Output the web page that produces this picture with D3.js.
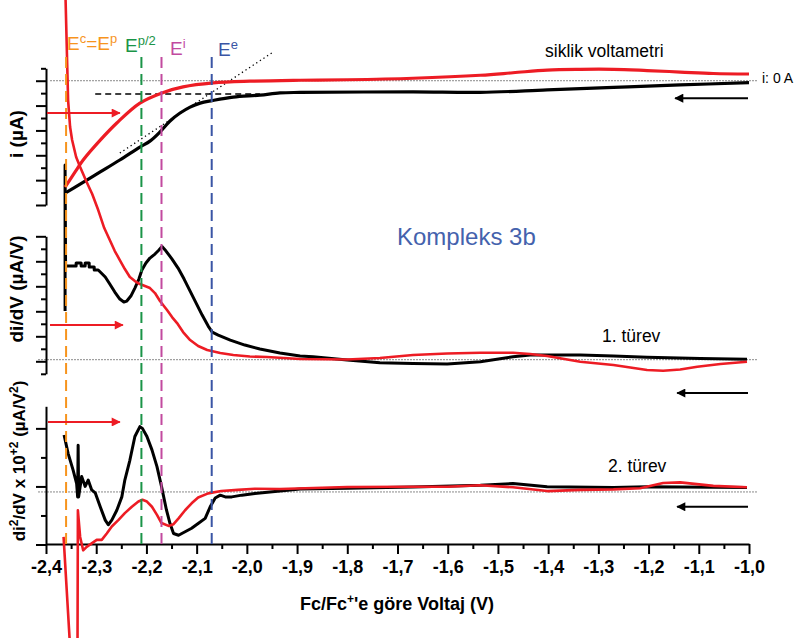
<!DOCTYPE html>
<html><head><meta charset="utf-8">
<script src="https://cdn.jsdelivr.net/npm/d3@7"></script>
<style>body{margin:0;background:#fff}svg{display:block;font-family:"Liberation Sans",Arial,sans-serif}</style>
</head><body><svg id="c" width="801" height="638"></svg>
<script>
// ---------- data ----------
const xTickValues = [-2.4,-2.3,-2.2,-2.1,-2.0,-1.9,-1.8,-1.7,-1.6,-1.5,-1.4,-1.3,-1.2,-1.1,-1.0];
const xTickLabels = ["-2,4","-2,3","-2,2","-2,1","-2,0","-1,9","-1,8","-1,7","-1,6","-1,5","-1,4","-1,3","-1,2","-1,1","-1,0"];
const xMinorTicks = [-2.35,-2.25,-2.15,-2.05,-1.95,-1.85,-1.75,-1.65,-1.55,-1.45,-1.35,-1.25,-1.15,-1.05];

// cyclic voltammetry (top panel), [V, i]
const cvBlack = [[-2.362,-4.52],[-2.332,-4.16],[-2.292,-3.67],[-2.253,-3.19],[-2.213,-2.67],[-2.193,-2.43],[-2.173,-2.06],[-2.153,-1.62],[-2.133,-1.30],[-2.113,-1.06],[-2.093,-0.90],[-2.069,-0.80],[-2.027,-0.66],[-1.974,-0.58],[-1.934,-0.49],[-1.894,-0.47],[-1.669,-0.45],[-1.535,-0.47],[-1.402,-0.37],[-1.270,-0.27],[-1.137,-0.17],[-1.0,-0.08]];
const cvRed = [[-2.362,-4.28],[-2.342,-3.67],[-2.326,-3.19],[-2.292,-2.39],[-2.259,-1.70],[-2.213,-0.90],[-2.169,-0.49],[-2.127,-0.25],[-2.067,-0.09],[-1.994,-0.02],[-1.894,0.02],[-1.800,0.04],[-1.669,0.10],[-1.535,0.22],[-1.470,0.32],[-1.402,0.43],[-1.336,0.46],[-1.270,0.46],[-1.203,0.41],[-1.137,0.35],[-1.071,0.29],[-1.0,0.27]];

// first derivative (middle panel), [V, di/dV]
const d1Black = [[-2.362,2.01],[-2.362,7.85],[-2.361,3.81],[-2.340,3.81],[-2.340,3.93],[-2.330,3.93],[-2.330,3.81],[-2.322,3.81],[-2.322,3.93],[-2.314,3.93],[-2.314,3.77],[-2.304,3.77],[-2.304,3.65],[-2.296,3.65],[-2.292,3.57],[-2.282,3.37],[-2.273,3.09],[-2.263,2.77],[-2.253,2.49],[-2.245,2.37],[-2.239,2.41],[-2.231,2.61],[-2.223,2.93],[-2.215,3.29],[-2.209,3.65],[-2.201,3.93],[-2.193,4.13],[-2.183,4.29],[-2.175,4.45],[-2.169,4.59],[-2.161,4.41],[-2.149,4.09],[-2.137,3.73],[-2.125,3.29],[-2.113,2.81],[-2.101,2.33],[-2.089,1.85],[-2.077,1.41],[-2.069,1.17],[-2.057,1.05],[-2.033,0.85],[-2.004,0.65],[-1.974,0.49],[-1.934,0.33],[-1.894,0.21],[-1.868,0.18],[-1.800,0.05],[-1.735,-0.06],[-1.669,-0.09],[-1.601,-0.11],[-1.535,-0.02],[-1.470,0.18],[-1.436,0.25],[-1.336,0.25],[-1.270,0.21],[-1.203,0.16],[-1.097,0.11],[-1.004,0.08]];
const d1Red = [[-2.363,15.25],[-2.361,14.45],[-2.358,12.05],[-2.356,10.45],[-2.352,9.37],[-2.348,8.85],[-2.340,8.17],[-2.332,7.77],[-2.320,7.21],[-2.308,6.69],[-2.296,6.05],[-2.284,5.33],[-2.273,4.85],[-2.263,4.41],[-2.253,4.05],[-2.243,3.69],[-2.233,3.37],[-2.223,3.21],[-2.213,3.09],[-2.203,3.01],[-2.193,2.93],[-2.183,2.73],[-2.173,2.41],[-2.159,2.05],[-2.149,1.77],[-2.139,1.53],[-2.127,1.17],[-2.113,0.85],[-2.097,0.61],[-2.079,0.45],[-2.053,0.33],[-2.027,0.25],[-1.994,0.19],[-1.960,0.17],[-1.894,0.09],[-1.800,0.07],[-1.735,0.13],[-1.669,0.25],[-1.601,0.31],[-1.535,0.34],[-1.470,0.34],[-1.436,0.29],[-1.402,0.21],[-1.336,-0.02],[-1.270,-0.15],[-1.203,-0.35],[-1.171,-0.38],[-1.137,-0.33],[-1.103,-0.22],[-1.057,-0.11],[-1.004,-0.02]];

// second derivative (bottom panel), [V, di2/dV2]
const d2Black = [[-2.364,0.885],[-2.356,0.57],[-2.346,0.28],[-2.339,0.05],[-2.337,-0.18],[-2.336,0.71],[-2.335,-0.18],[-2.329,0.17],[-2.322,0.0],[-2.316,0.11],[-2.309,-0.06],[-2.302,-0.11],[-2.292,-0.35],[-2.282,-0.58],[-2.276,-0.66],[-2.269,-0.58],[-2.259,-0.41],[-2.249,-0.18],[-2.243,0.11],[-2.233,0.45],[-2.223,0.86],[-2.213,1.03],[-2.208,1.00],[-2.199,0.86],[-2.189,0.63],[-2.179,0.34],[-2.170,0.0],[-2.160,-0.41],[-2.153,-0.64],[-2.146,-0.81],[-2.136,-0.84],[-2.123,-0.78],[-2.110,-0.72],[-2.097,-0.64],[-2.083,-0.55],[-2.073,-0.35],[-2.063,-0.20],[-2.053,-0.15],[-2.043,-0.18],[-2.030,-0.18],[-2.010,-0.15],[-1.984,-0.12],[-1.894,-0.045],[-1.800,-0.03],[-1.669,-0.01],[-1.535,0.02],[-1.470,0.05],[-1.402,-0.005],[-1.270,-0.02],[-1.203,-0.005],[-1.004,-0.02]];
const d2Red = [[-2.365,-0.87],[-2.347,-3.5],[-2.3375,-3.5],[-2.3365,-0.41],[-2.332,-0.87],[-2.326,-1.10],[-2.319,-1.04],[-2.309,-0.98],[-2.299,-0.92],[-2.289,-0.92],[-2.279,-0.81],[-2.269,-0.69],[-2.256,-0.58],[-2.243,-0.46],[-2.229,-0.35],[-2.216,-0.26],[-2.208,-0.23],[-2.199,-0.26],[-2.189,-0.35],[-2.179,-0.49],[-2.170,-0.63],[-2.156,-0.68],[-2.146,-0.65],[-2.136,-0.55],[-2.123,-0.41],[-2.110,-0.29],[-2.097,-0.19],[-2.077,-0.12],[-2.051,-0.08],[-2.018,-0.06],[-1.984,-0.04],[-1.934,-0.045],[-1.800,-0.01],[-1.669,-0.005],[-1.601,-0.005],[-1.535,0.02],[-1.470,-0.015],[-1.402,-0.08],[-1.336,-0.06],[-1.270,-0.05],[-1.217,-0.03],[-1.171,0.06],[-1.137,0.07],[-1.071,0.01],[-1.004,-0.015]];

// characteristic potentials
const markerV = [-2.36,-2.21,-2.17,-2.07];
const markerLabels = [[["E",0],["c",1],["=E",0],["p",1]],[["E",0],["p/2",1]],[["E",0],["i",1]],[["E",0],["e",1]]];
const markerColors = ["#f7941d","#1a9447","#c24a9f","#3a55a5"];
// tangent lines on CV
const tangentDashed = [[-2.302,-0.535],[-1.974,-0.535]];
const tangentDotted = [[-2.253,-2.91],[-1.948,1.15]];

// ---------- drawing ----------
const svg = d3.select("#c");
const x = d3.scaleLinear().domain([-2.4,-1.0]).range([46,749]);
const yTop = d3.scaleLinear().domain([-5,0.5]).range([205,68.3]);
const yMid = d3.scaleLinear().domain([-0.5,5]).range([373.8,236.3]);
const yBot = d3.scaleLinear().domain([-1,1.38]).range([544.5,406.3]);
const RED = "#ed1c24";

// zero reference lines
function zeroLine(y, v, x0){
  svg.append("line").attr("x1",x0).attr("x2",758).attr("y1",y(v)).attr("y2",y(v))
    .attr("stroke","#8a8a8a").attr("stroke-width",1).attr("stroke-dasharray","2,1");
}
zeroLine(yTop,0,50); zeroLine(yMid,0.064,38); zeroLine(yBot,-0.095,38);

// y axes
function yAxis(scale, major, minor){
  const g = svg.append("g").attr("transform","translate(46,0)");
  g.call(d3.axisLeft(scale).tickValues(major).tickSize(10).tickSizeOuter(0).tickFormat(""));
  g.append("g").call(d3.axisLeft(scale).tickValues(minor).tickSize(5).tickSizeOuter(0).tickFormat("")).select(".domain").remove();
  g.selectAll("line,path").attr("stroke","#000").attr("stroke-width",2);
}
yAxis(yTop,[0,-1,-2,-3,-4,-5],[0.5,-0.5,-1.5,-2.5,-3.5,-4.5]);
yAxis(yMid,[0,1,2,3,4,5],[-0.5,0.5,1.5,2.5,3.5,4.5]);
yAxis(yBot,[-1,0,1],[-0.5,0.5]);

// x axis
const gx = svg.append("g").attr("transform","translate(0,544)");
gx.call(d3.axisBottom(x).tickValues(xTickValues).tickSize(10).tickPadding(6).tickSizeOuter(0).tickFormat((d,i)=>xTickLabels[i]));
gx.append("g").call(d3.axisBottom(x).tickValues(xMinorTicks).tickSize(5).tickSizeOuter(0).tickFormat("")).select(".domain").remove();
gx.selectAll("line,path").attr("stroke","#000").attr("stroke-width",2);
gx.selectAll("text").attr("font-family","Liberation Sans, Arial, sans-serif").attr("font-size",18).attr("font-weight","bold").attr("fill","#000");

// rich text helper
function rich(t, parts, supSize, shift){
  parts.forEach(([s,sup],i)=>{
    const prev = i>0 ? parts[i-1][1] : 0;
    const ts = t.append("tspan").text(s);
    if(sup){ ts.attr("font-size",supSize).attr("dy",prev? 0 : -shift); }
    else if(prev){ ts.attr("dy",shift); }
  });
  return t;
}

// axis titles
svg.append("text").attr("transform","translate(23,134) rotate(-90)").attr("text-anchor","middle")
  .attr("font-size",19).attr("font-weight","bold").text("i (µA)");
svg.append("text").attr("transform","translate(23,289) rotate(-90)").attr("text-anchor","middle")
  .attr("font-size",19).attr("font-weight","bold").text("di/dV (µA/V)");
rich(svg.append("text").attr("transform","translate(25,461) rotate(-90)").attr("text-anchor","middle")
  .attr("font-size",17).attr("font-weight","bold"),
  [["di",0],["2",1],["/dV x 10",0],["+2",1],[" (µA/V",0],["2",1],[")",0]],12,7);
rich(svg.append("text").attr("x",397).attr("y",610).attr("text-anchor","middle")
  .attr("font-size",18).attr("font-weight","bold"),
  [["Fc/Fc",0],["+",1],["'e göre Voltaj (V)",0]],12,7);

// curves
const lineTop = d3.line().x(d=>x(d[0])).y(d=>yTop(d[1])).curve(d3.curveCatmullRom);
const lineTopStraight = d3.line().x(d=>x(d[0])).y(d=>yTop(d[1]));
const lineMid = d3.line().x(d=>x(d[0])).y(d=>yMid(d[1]));
const lineBot = d3.line().x(d=>x(d[0])).y(d=>yBot(d[1]));
function path(d, gen, color, w){
  svg.append("path").attr("d",gen(d)).attr("fill","none").attr("stroke",color).attr("stroke-width",w)
    .attr("stroke-linejoin","round").attr("stroke-linecap","butt");
}
// tangents
svg.append("path").attr("d",lineTopStraight(tangentDashed)).attr("stroke","#000").attr("stroke-width",1.3).attr("stroke-dasharray","6,4").attr("fill","none");
svg.append("path").attr("d",lineTopStraight(tangentDotted)).attr("stroke","#000").attr("stroke-width",1.3).attr("stroke-dasharray","1.3,3").attr("fill","none");

path(d1Black, lineMid, "#000", 3);
path(d2Black, lineBot, "#000", 3);
path(cvBlack, lineTop, "#000", 3.2);
path(d1Red, lineMid, RED, 2.6);
path(d2Red, lineBot, RED, 2.6);
path(cvRed, lineTop, RED, 3.2);

// marker dashed lines + labels
const labelPos = [[67,50],[125,52],[170,55],[218,56]];
markerV.forEach((v,i)=>{
  svg.append("line").attr("x1",x(v)).attr("x2",x(v)).attr("y1",57).attr("y2",544)
    .attr("stroke",markerColors[i]).attr("stroke-width",2).attr("stroke-dasharray","11,6");
  rich(svg.append("text").attr("x",labelPos[i][0]).attr("y",labelPos[i][1]).attr("font-size",19).attr("fill",markerColors[i]),
    markerLabels[i],13,7);
});

// arrows
svg.append("defs").selectAll("marker").data([["ar",RED],["ab","#000"]]).join("marker")
  .attr("id",d=>d[0]).attr("viewBox","0 0 10 10").attr("refX",9).attr("refY",5)
  .attr("markerWidth",16).attr("markerHeight",9).attr("markerUnits","userSpaceOnUse").attr("orient","auto")
  .append("path").attr("d","M0,0L10,5L0,10Z").attr("fill",d=>d[1]);
function arrow(x1,x2,y,color,id){
  svg.append("line").attr("x1",x1).attr("x2",x2).attr("y1",y).attr("y2",y)
    .attr("stroke",color).attr("stroke-width",2).attr("marker-end",`url(#${id})`);
}
arrow(x(-2.398),x(-2.253),yTop(-1.30),RED,"ar");
arrow(x(-2.392),x(-2.247),yMid(1.45),RED,"ar");
arrow(x(-2.396),x(-2.253),yBot(1.11),RED,"ar");
arrow(x(-1.002),x(-1.147),yTop(-0.70),"#000","ab");
arrow(x(-1.002),x(-1.143),yMid(-1.27),"#000","ab");
arrow(x(-1.002),x(-1.143),yBot(-0.35),"#000","ab");

// annotations
svg.append("text").attr("x",545).attr("y",57).attr("font-size",17.5).text("siklik voltametri");
svg.append("text").attr("x",762).attr("y",83).attr("font-size",14).text("i: 0 A");
svg.append("text").attr("x",397).attr("y",245).attr("font-size",24).attr("fill","#4462ad").text("Kompleks 3b");
svg.append("text").attr("x",602).attr("y",342).attr("font-size",17.5).text("1. türev");
svg.append("text").attr("x",608).attr("y",472).attr("font-size",17.5).text("2. türev");
</script></body></html>
